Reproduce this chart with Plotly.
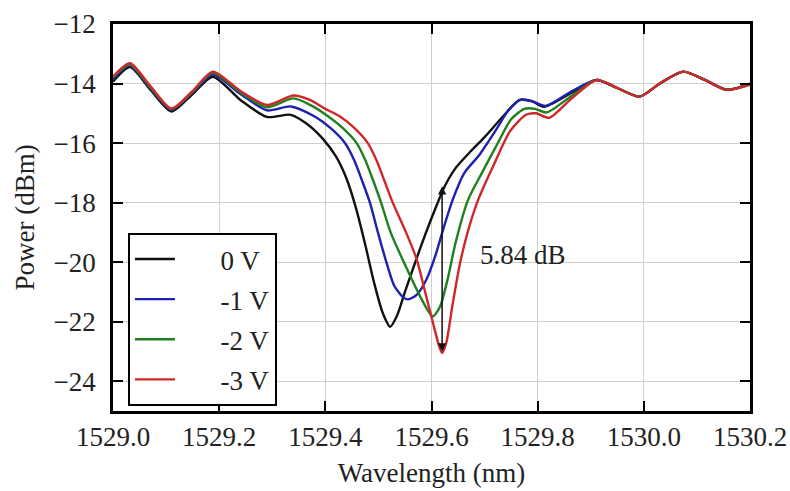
import plotly.graph_objects as go

# ---------------- data ----------------
wl_0v = [1529.000, 1529.032, 1529.070, 1529.110, 1529.150, 1529.188, 1529.240, 1529.290,
         1529.335, 1529.365, 1529.395, 1529.420, 1529.440, 1529.458, 1529.475, 1529.492,
         1529.508, 1529.522, 1529.535, 1529.550, 1529.578, 1529.605, 1529.625, 1529.645,
         1529.670, 1529.700, 1529.735, 1529.766, 1529.790, 1529.812, 1529.865, 1529.911,
         1529.950, 1529.992, 1530.030, 1530.074, 1530.115, 1530.156, 1530.200]
p_0v = [-13.94, -13.45, -14.20, -14.94, -14.35, -13.77, -14.55, -15.12,
        -15.05, -15.35, -15.85, -16.45, -17.20, -18.20, -19.40, -20.70,
        -21.70, -22.17, -21.80, -21.00, -19.57, -18.30, -17.45, -16.85,
        -16.35, -15.80, -15.10, -14.55, -14.60, -14.78, -14.30, -13.88,
        -14.15, -14.44, -14.00, -13.60, -13.88, -14.21, -14.00]

wl_1v = [1529.000, 1529.032, 1529.070, 1529.110, 1529.150, 1529.188, 1529.240, 1529.290,
         1529.335, 1529.380, 1529.410, 1529.437, 1529.455, 1529.470, 1529.484, 1529.499,
         1529.515, 1529.530, 1529.548, 1529.556, 1529.572, 1529.590, 1529.607, 1529.622,
         1529.640, 1529.662, 1529.690, 1529.720, 1529.745, 1529.768, 1529.790, 1529.815,
         1529.865, 1529.911, 1529.950, 1529.992, 1530.030, 1530.074, 1530.115, 1530.156,
         1530.200]
p_1v = [-13.85, -13.40, -14.15, -14.88, -14.30, -13.70, -14.35, -14.90,
        -14.77, -15.11, -15.50, -16.00, -16.60, -17.30, -18.00, -19.00,
        -20.00, -20.80, -21.20, -21.25, -21.10, -20.60, -19.80, -18.90,
        -17.90, -17.00, -16.40, -15.60, -14.90, -14.55, -14.60, -14.75,
        -14.25, -13.88, -14.15, -14.44, -14.00, -13.60, -13.88, -14.21,
        -14.02]

wl_2v = [1529.000, 1529.032, 1529.070, 1529.110, 1529.150, 1529.188, 1529.240, 1529.290,
         1529.340, 1529.375, 1529.405, 1529.433, 1529.459, 1529.476, 1529.491, 1529.505,
         1529.523, 1529.553, 1529.580, 1529.596, 1529.603, 1529.616, 1529.630, 1529.646,
         1529.669, 1529.695, 1529.722, 1529.750, 1529.775, 1529.795, 1529.817, 1529.865,
         1529.911, 1529.950, 1529.992, 1530.030, 1530.074, 1530.115, 1530.156, 1530.200]
p_2v = [-13.80, -13.36, -14.12, -14.86, -14.28, -13.64, -14.30, -14.80,
        -14.50, -14.75, -15.10, -15.50, -16.00, -16.60, -17.30, -18.00,
        -19.00, -20.20, -21.20, -21.70, -21.82, -21.50, -20.60, -19.30,
        -17.90, -17.00, -16.10, -15.20, -14.85, -14.85, -14.97, -14.40,
        -13.88, -14.15, -14.44, -14.00, -13.60, -13.88, -14.21, -14.03]

wl_3v = [1529.000, 1529.032, 1529.070, 1529.110, 1529.150, 1529.188, 1529.240, 1529.290,
         1529.340, 1529.371, 1529.400, 1529.427, 1529.455, 1529.480, 1529.497, 1529.512,
         1529.527, 1529.552, 1529.572, 1529.588, 1529.603, 1529.614, 1529.620, 1529.628,
         1529.639, 1529.653, 1529.668, 1529.688, 1529.718, 1529.748, 1529.778, 1529.797,
         1529.822, 1529.861, 1529.911, 1529.950, 1529.992, 1530.030, 1530.074, 1530.115,
         1530.156, 1530.200]
p_3v = [-13.77, -13.32, -14.08, -14.84, -14.25, -13.60, -14.25, -14.72,
        -14.40, -14.55, -14.85, -15.10, -15.50, -16.00, -16.60, -17.30,
        -18.00, -19.00, -19.90, -21.00, -22.05, -22.80, -23.05, -22.70,
        -21.50, -20.10, -19.00, -17.90, -16.70, -15.60, -15.05, -15.00,
        -15.15, -14.55, -13.88, -14.15, -14.44, -14.00, -13.60, -13.88,
        -14.21, -14.04]

series_names = ["0 V", "-1 V", "-2 V", "-3 V"]
series_x = [wl_0v, wl_1v, wl_2v, wl_3v]
series_y = [p_0v, p_1v, p_2v, p_3v]
colors = ["#111111", "#1f1fb0", "#1e801e", "#d0282a"]

x_ticks = [1529.0, 1529.2, 1529.4, 1529.6, 1529.8, 1530.0, 1530.2]
y_ticks = [-24, -22, -20, -18, -16, -14, -12]

arrow_x = 1529.62
arrow_y_low = -23.05
arrow_y_high = -17.45
label_text = "5.84 dB"
label_pos = (1529.772, -19.75)

FONT = "Liberation Serif, Times New Roman, serif"
FS = 27

fig = go.Figure()
for i, (name, xs, ys, c) in enumerate(zip(series_names, series_x, series_y, colors)):
    fig.add_trace(go.Scatter(
        x=xs, y=ys, mode="lines", name="\u00a0" * 6 + name,
        line=dict(color=c, width=2.4, shape="spline", smoothing=0.7),
        legendgroup=f"g{i}",
    ))

fig.add_annotation(
    x=arrow_x, y=arrow_y_high, ax=arrow_x, ay=arrow_y_low,
    xref="x", yref="y", axref="x", ayref="y",
    showarrow=True, arrowhead=2, arrowside="end+start", arrowsize=1.1,
    arrowwidth=1.5, arrowcolor="#111111", text="",
)
fig.add_annotation(
    x=label_pos[0], y=label_pos[1], xref="x", yref="y",
    text=label_text, showarrow=False,
    font=dict(family=FONT, size=FS, color="#222222"),
)

axis_common = dict(
    showline=True, linecolor="black", linewidth=2.5, mirror="ticks",
    ticks="inside", ticklen=10, tickwidth=2, tickcolor="black",
    showgrid=True, gridcolor="#cfcfcf", gridwidth=1,
    zeroline=False, automargin=False,
    tickfont=dict(family=FONT, size=FS, color="#222222"),
)

fig.update_xaxes(
    range=[1529.0, 1530.2], tickvals=x_ticks,
    ticktext=[f"{v:.1f}" for v in x_ticks],
    title=dict(text="Wavelength (nm)", font=dict(family=FONT, size=FS, color="#222222"), standoff=12),
    ticklabelstandoff=0,
    **axis_common,
)
fig.update_yaxes(
    range=[-25, -12], tickvals=y_ticks,
    ticktext=[f"\u2212{abs(v)}" for v in y_ticks],
    title=dict(text="Power (dBm)", font=dict(family=FONT, size=FS, color="#222222"), standoff=12),
    ticklabelstandoff=9,
    **axis_common,
)

fig.update_layout(
    width=790, height=491,
    margin=dict(l=113, r=40, t=24, b=80),
    paper_bgcolor="white", plot_bgcolor="white",
    font=dict(family=FONT, size=FS, color="#222222"),
    showlegend=True,
    legend=dict(
        x=0.0235, y=0.46, xanchor="left", yanchor="top",
        bgcolor="white", bordercolor="black", borderwidth=2,
        font=dict(family=FONT, size=FS, color="#222222"),
        tracegroupgap=2, itemwidth=40,
    ),
)

fig.write_html("out.html")
